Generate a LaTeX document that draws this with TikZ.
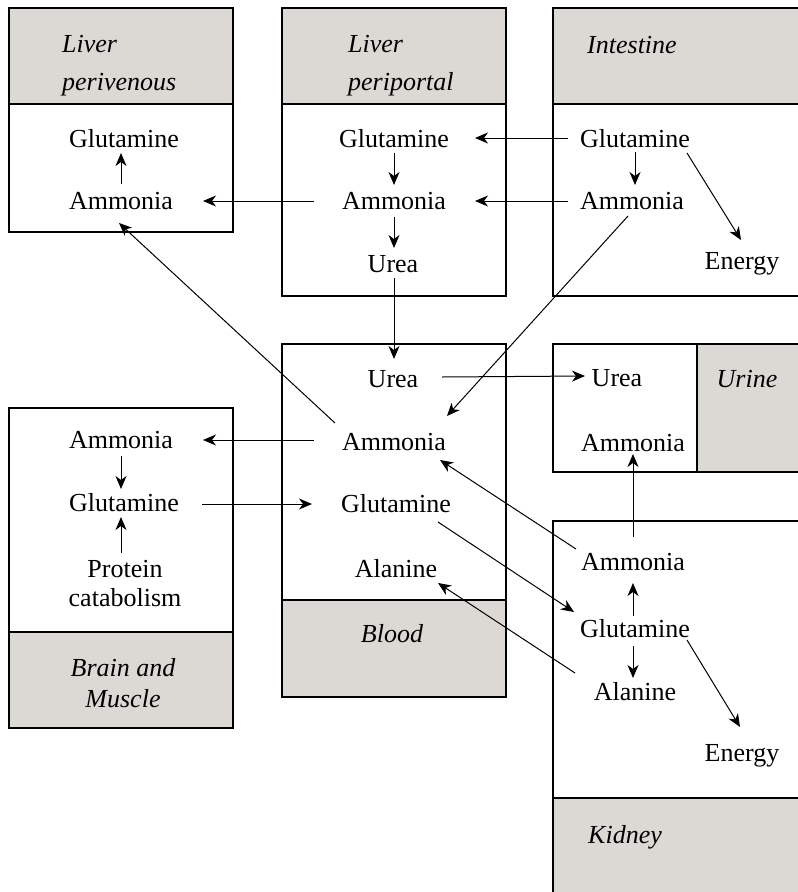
\documentclass[tikz,border=0pt]{standalone}
\usepackage{fontspec}
\setmainfont{Liberation Serif}
\usetikzlibrary{arrows.meta}
\definecolor{hdrgray}{RGB}{220,217,213}
\begin{document}
\begin{tikzpicture}[x=1pt,y=-1pt,
  lbl/.style={font=\fontsize{26}{30}\selectfont, inner sep=0pt, text height=17.5pt, text depth=0pt},
  mlbl/.style={font=\fontsize{26}{29}\selectfont, inner sep=0pt, align=center},
  hdr/.style={font=\fontsize{26}{38}\selectfont\itshape, inner sep=0pt},
  box/.style={draw=black, line width=1.8pt},
  gfill/.style={fill=hdrgray},
  arr/.style={-{Stealth[length=13pt,width=11pt,inset=4pt]}, line width=1pt}]
\useasboundingbox (0,0) rectangle (798,892);
\clip (0,0) rectangle (798,892);

% ---- boxes ----
% Liver perivenous
\fill[gfill] (9,8) rectangle (233,104);
\draw[box] (9,8) rectangle (233,232) (9,104) -- (233,104);
% Liver periportal
\fill[gfill] (282,8) rectangle (506,104);
\draw[box] (282,8) rectangle (506,296) (282,104) -- (506,104);
% Intestine
\fill[gfill] (553,8) rectangle (812,104);
\draw[box] (553,8) rectangle (812,296) (553,104) -- (812,104);
% Blood
\fill[gfill] (282,600) rectangle (506,697);
\draw[box] (282,344) rectangle (506,697) (282,600) -- (506,600);
% Brain and Muscle
\fill[gfill] (9,632) rectangle (233,728);
\draw[box] (9,408) rectangle (233,728) (9,632) -- (233,632);
% Urine
\fill[gfill] (697,344) rectangle (812,472);
\draw[box] (553,344) rectangle (812,472) (697,344) -- (697,472);
% Kidney
\fill[gfill] (553,798) rectangle (812,910);
\draw[box] (553,521) rectangle (812,910) (553,798) -- (812,798);

% ---- headers ----
\node[hdr, align=left, anchor=north west] (hPV) at (62,35) {Liver\\perivenous};
\node[hdr, align=left, anchor=north west] (hPP) at (348,35) {Liver\\periportal};
\node[hdr, anchor=base west] (hIn) at (587,53) {Intestine};
\node[hdr, anchor=base] (hUr) at (747,387) {Urine};
\node[hdr, anchor=base] (hBl) at (392,642) {Blood};
\node[hdr, align=center, font=\fontsize{26}{31}\selectfont\itshape, anchor=north] (hBM) at (123,658) {Brain and\\Muscle};
\node[hdr, anchor=base west] (hKi) at (588,843) {Kidney};

% ---- labels ----
\node[lbl] (pvG) at (124,139) {Glutamine};
\node[lbl] (pvA) at (121,201) {Ammonia};
\node[lbl] (ppG) at (394,139) {Glutamine};
\node[lbl] (ppA) at (394,201) {Ammonia};
\node[lbl] (ppU) at (393,264) {Urea};
\node[lbl] (inG) at (635,139) {Glutamine};
\node[lbl] (inA) at (632,201) {Ammonia};
\node[lbl] (inE) at (742,261) {Energy};
\node[lbl] (bU) at (393,379) {Urea};
\node[lbl] (bA) at (394,442) {Ammonia};
\node[lbl] (bG) at (396,504) {Glutamine};
\node[lbl] (bAl) at (396,569) {Alanine};
\node[lbl] (bmA) at (121,440) {Ammonia};
\node[lbl] (bmG) at (124,503) {Glutamine};
\node[mlbl, anchor=north] (bmP) at (125,560) {Protein\\catabolism};
\node[lbl] (uU) at (617,378) {Urea};
\node[lbl] (uA) at (633,443) {Ammonia};
\node[lbl] (kA) at (633,562) {Ammonia};
\node[lbl] (kG) at (635,629) {Glutamine};
\node[lbl] (kAl) at (635,692) {Alanine};
\node[lbl] (kE) at (742,753) {Energy};

% ---- connectors ----
\draw[arr] ([shift={(0,-17)}]pvA.center) -- ([shift={(-3,14)}]pvG.center);
\draw[arr] ([shift={(-80,0)}]ppA.center) -- ([shift={(82,0)}]pvA.center);
\draw[arr] ([shift={(0,14)}]ppG.center) -- ([shift={(0,-16)}]ppA.center);
\draw[arr] ([shift={(0,16)}]ppA.center) -- ([shift={(1,-16)}]ppU.center);
\draw[arr] ([shift={(-67,-1)}]inG.center) -- ([shift={(81,-1)}]ppG.center);
\draw[arr] ([shift={(-64,0)}]inA.center) -- ([shift={(81,0)}]ppA.center);
\draw[arr] ([shift={(0,13)}]inG.center) -- ([shift={(3,-16)}]inA.center);
\draw[arr] ([shift={(52,14)}]inG.center) -- ([shift={(-1,-21)}]inE.center);
\draw[arr] ([shift={(-4,15)}]inA.center) -- ([shift={(53,-26)}]bA.center);
\draw[arr] ([shift={(1,14)}]ppU.center) -- ([shift={(1,-20)}]bU.center);
\draw[arr] ([shift={(49,-2)}]bU.center) -- ([shift={(-32,-2)}]uU.center);
\draw[arr] ([shift={(-59,-19)}]bA.center) -- ([shift={(-2,22)}]pvA.center);
\draw[arr] ([shift={(-80,-2)}]bA.center) -- ([shift={(82,0)}]bmA.center);
\draw[arr] ([shift={(78,1)}]bmG.center) -- ([shift={(-84,0)}]bG.center);
\draw[arr] ([shift={(0,16)}]bmA.center) -- ([shift={(-3,-14)}]bmG.center);
\draw[arr] ([shift={(-4,-7)}]bmP.north) -- ([shift={(-3,14)}]bmG.center);
\draw[arr] ([shift={(0,-25)}]kA.center) -- ([shift={(0,11)}]uA.center);
\draw[arr] ([shift={(-2,-13)}]kG.center) -- ([shift={(0,21)}]kA.center);
\draw[arr] ([shift={(-2,17)}]kG.center) -- ([shift={(-2,-14)}]kAl.center);
\draw[arr] ([shift={(52,11)}]kG.center) -- ([shift={(-2,-26)}]kE.center);
\draw[arr] ([shift={(-57,-13)}]kA.center) -- ([shift={(46,18)}]bA.center);
\draw[arr] ([shift={(42,18)}]bG.center) -- ([shift={(-61,-17)}]kG.center);
\draw[arr] ([shift={(-60,-19)}]kAl.center) -- ([shift={(42,14)}]bAl.center);
\end{tikzpicture}
\end{document}
